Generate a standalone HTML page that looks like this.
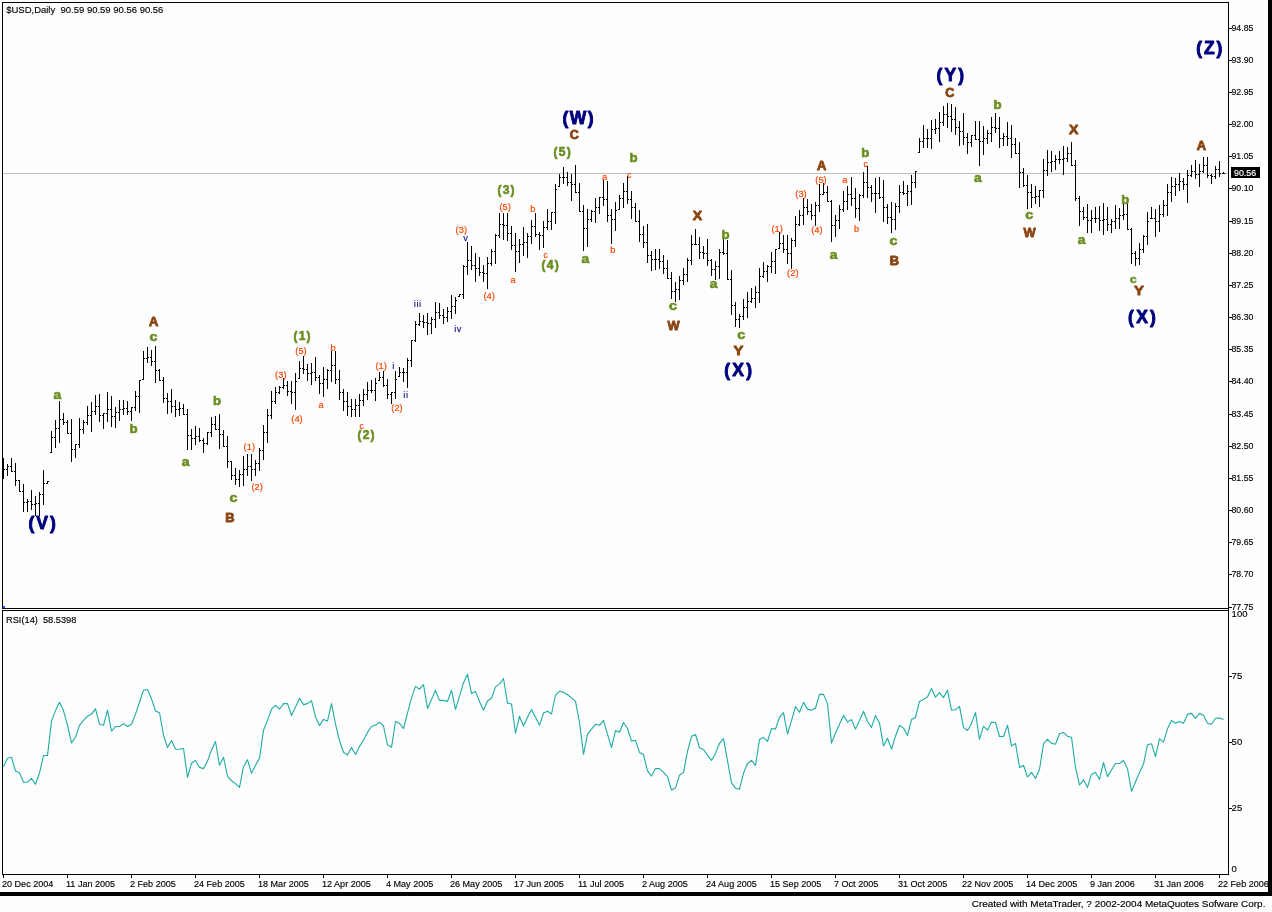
<!DOCTYPE html>
<html lang="en"><head><meta charset="utf-8"><title>$USD Daily</title>
<style>
html,body{margin:0;padding:0;background:#fdfefd;}
body{width:1272px;height:912px;overflow:hidden;font-family:"Liberation Sans",sans-serif;}
svg{display:block;position:absolute;left:0;top:0}
.ax{font-family:"Liberation Sans",sans-serif;font-size:9.5px;fill:#000;stroke:#000;stroke-width:.15px}
.N{font-family:"Liberation Sans",sans-serif;font-weight:bold;font-size:17.5px;fill:#00007f;stroke:#00007f;stroke-width:.9px;stroke-linejoin:round}
.B{font-family:"Liberation Sans",sans-serif;font-weight:bold;font-size:11.9px;fill:#8b4513;stroke:#8b4513;stroke-width:.8px;stroke-linejoin:round}
.G{font-family:"Liberation Sans",sans-serif;font-weight:bold;font-size:12px;fill:#6b8e23;stroke:#6b8e23;stroke-width:.6px;stroke-linejoin:round}
.Gs{font-family:"Liberation Sans",sans-serif;font-weight:bold;font-size:10.5px;fill:#6b8e23;stroke:#6b8e23;stroke-width:.4px}
.O{font-family:"Liberation Sans",sans-serif;font-size:9.3px;fill:#ff4500;stroke:#ff4500;stroke-width:.2px}
.Os{font-family:"Liberation Sans",sans-serif;font-size:8.3px;fill:#ff4500;stroke:#ff4500;stroke-width:.2px}
.n{font-family:"Liberation Sans",sans-serif;font-size:9.3px;fill:#00007f;stroke:#00007f;stroke-width:.1px;letter-spacing:.5px}
</style></head><body>
<svg width="1272" height="912" viewBox="0 0 1272 912">
<rect x="0" y="0" width="1272" height="912" fill="#fdfefd"/>

<g shape-rendering="crispEdges" fill="#000">
<rect x="2" y="2" width="1227" height="1"/>
<rect x="2" y="2" width="1" height="607"/>
<rect x="2" y="608" width="1227" height="1"/>
<rect x="1228" y="2" width="1" height="873"/>
<rect x="2" y="610" width="1227" height="1"/>
<rect x="2" y="610" width="1" height="265"/>
<rect x="2" y="874" width="1227" height="1"/>
<rect x="0" y="892" width="1272" height="4"/>
<rect x="1268" y="0" width="4" height="896"/>
</g>
<rect x="3" y="173" width="1225" height="1" fill="#c0c0c0" shape-rendering="crispEdges"/>
<rect x="3" y="606" width="2" height="2" fill="#3a5bff" shape-rendering="crispEdges"/>
<g shape-rendering="crispEdges" fill="#000">
<rect x="1229" y="28" width="3" height="1"/>
<rect x="1229" y="60" width="3" height="1"/>
<rect x="1229" y="92" width="3" height="1"/>
<rect x="1229" y="124" width="3" height="1"/>
<rect x="1229" y="156" width="3" height="1"/>
<rect x="1229" y="188" width="3" height="1"/>
<rect x="1229" y="221" width="3" height="1"/>
<rect x="1229" y="253" width="3" height="1"/>
<rect x="1229" y="285" width="3" height="1"/>
<rect x="1229" y="317" width="3" height="1"/>
<rect x="1229" y="349" width="3" height="1"/>
<rect x="1229" y="381" width="3" height="1"/>
<rect x="1229" y="414" width="3" height="1"/>
<rect x="1229" y="446" width="3" height="1"/>
<rect x="1229" y="478" width="3" height="1"/>
<rect x="1229" y="510" width="3" height="1"/>
<rect x="1229" y="542" width="3" height="1"/>
<rect x="1229" y="574" width="3" height="1"/>
<rect x="1229" y="607" width="3" height="1"/>
<rect x="1229" y="676" width="3" height="1"/>
<rect x="1229" y="742" width="3" height="1"/>
<rect x="1229" y="808" width="3" height="1"/>
<rect x="3" y="875" width="1" height="3"/>
<rect x="67" y="875" width="1" height="3"/>
<rect x="131" y="875" width="1" height="3"/>
<rect x="195" y="875" width="1" height="3"/>
<rect x="259" y="875" width="1" height="3"/>
<rect x="323" y="875" width="1" height="3"/>
<rect x="387" y="875" width="1" height="3"/>
<rect x="451" y="875" width="1" height="3"/>
<rect x="515" y="875" width="1" height="3"/>
<rect x="579" y="875" width="1" height="3"/>
<rect x="643" y="875" width="1" height="3"/>
<rect x="707" y="875" width="1" height="3"/>
<rect x="771" y="875" width="1" height="3"/>
<rect x="835" y="875" width="1" height="3"/>
<rect x="899" y="875" width="1" height="3"/>
<rect x="963" y="875" width="1" height="3"/>
<rect x="1027" y="875" width="1" height="3"/>
<rect x="1091" y="875" width="1" height="3"/>
<rect x="1155" y="875" width="1" height="3"/>
<rect x="1219" y="875" width="1" height="3"/>
</g>
<g class="ax">
<text x="1231.5" y="31.2" textLength="21.9" lengthAdjust="spacingAndGlyphs">94.85</text>
<text x="1231.5" y="63.2" textLength="21.9" lengthAdjust="spacingAndGlyphs">93.90</text>
<text x="1231.5" y="95.2" textLength="21.9" lengthAdjust="spacingAndGlyphs">92.95</text>
<text x="1231.5" y="127.2" textLength="21.9" lengthAdjust="spacingAndGlyphs">92.00</text>
<text x="1231.5" y="159.2" textLength="21.9" lengthAdjust="spacingAndGlyphs">91.05</text>
<text x="1231.5" y="191.2" textLength="21.9" lengthAdjust="spacingAndGlyphs">90.10</text>
<text x="1231.5" y="224.2" textLength="21.9" lengthAdjust="spacingAndGlyphs">89.15</text>
<text x="1231.5" y="256.2" textLength="21.9" lengthAdjust="spacingAndGlyphs">88.20</text>
<text x="1231.5" y="288.2" textLength="21.9" lengthAdjust="spacingAndGlyphs">87.25</text>
<text x="1231.5" y="320.2" textLength="21.9" lengthAdjust="spacingAndGlyphs">86.30</text>
<text x="1231.5" y="352.2" textLength="21.9" lengthAdjust="spacingAndGlyphs">85.35</text>
<text x="1231.5" y="384.2" textLength="21.9" lengthAdjust="spacingAndGlyphs">84.40</text>
<text x="1231.5" y="417.2" textLength="21.9" lengthAdjust="spacingAndGlyphs">83.45</text>
<text x="1231.5" y="449.2" textLength="21.9" lengthAdjust="spacingAndGlyphs">82.50</text>
<text x="1231.5" y="481.2" textLength="21.9" lengthAdjust="spacingAndGlyphs">81.55</text>
<text x="1231.5" y="513.2" textLength="21.9" lengthAdjust="spacingAndGlyphs">80.60</text>
<text x="1231.5" y="545.2" textLength="21.9" lengthAdjust="spacingAndGlyphs">79.65</text>
<text x="1231.5" y="577.2" textLength="21.9" lengthAdjust="spacingAndGlyphs">78.70</text>
<text x="1231.5" y="610.2" textLength="21.9" lengthAdjust="spacingAndGlyphs">77.75</text>
<text x="1231.6" y="617.2">100</text>
<text x="1231.6" y="678.5">75</text>
<text x="1231.6" y="744.9">50</text>
<text x="1231.6" y="811.2">25</text>
<text x="1231.6" y="871.6">0</text>
<text transform="translate(2,886.8) scale(.955,1)">20 Dec 2004</text>
<text transform="translate(66,886.8) scale(.955,1)">11 Jan 2005</text>
<text transform="translate(130,886.8) scale(.955,1)">2 Feb 2005</text>
<text transform="translate(194,886.8) scale(.955,1)">24 Feb 2005</text>
<text transform="translate(258,886.8) scale(.955,1)">18 Mar 2005</text>
<text transform="translate(322,886.8) scale(.955,1)">12 Apr 2005</text>
<text transform="translate(386,886.8) scale(.955,1)">4 May 2005</text>
<text transform="translate(450,886.8) scale(.955,1)">26 May 2005</text>
<text transform="translate(514,886.8) scale(.955,1)">17 Jun 2005</text>
<text transform="translate(578,886.8) scale(.955,1)">11 Jul 2005</text>
<text transform="translate(642,886.8) scale(.955,1)">2 Aug 2005</text>
<text transform="translate(706,886.8) scale(.955,1)">24 Aug 2005</text>
<text transform="translate(770,886.8) scale(.955,1)">15 Sep 2005</text>
<text transform="translate(834,886.8) scale(.955,1)">7 Oct 2005</text>
<text transform="translate(898,886.8) scale(.955,1)">31 Oct 2005</text>
<text transform="translate(962,886.8) scale(.955,1)">22 Nov 2005</text>
<text transform="translate(1026,886.8) scale(.955,1)">14 Dec 2005</text>
<text transform="translate(1090,886.8) scale(.955,1)">9 Jan 2006</text>
<text transform="translate(1154,886.8) scale(.955,1)">31 Jan 2006</text>
<text transform="translate(1218,886.8) scale(.955,1)">22 Feb 2006</text>
<text x="6.2" y="13.2" textLength="157.2" lengthAdjust="spacingAndGlyphs" xml:space="preserve">$USD,Daily  90.59 90.59 90.56 90.56</text>
<text x="6" y="622.6" textLength="70.4" lengthAdjust="spacingAndGlyphs" xml:space="preserve">RSI(14)  58.5398</text>
<text x="971.8" y="907.4" textLength="293.6" lengthAdjust="spacingAndGlyphs">Created with MetaTrader, ? 2002-2004 MetaQuotes Sofware Corp.</text>
</g>
<rect x="1231" y="167" width="29" height="11" fill="#000" shape-rendering="crispEdges"/>
<text class="ax" x="1234" y="176" textLength="22.2" lengthAdjust="spacingAndGlyphs" style="fill:#fff;stroke:#fff">90.56</text>
<g shape-rendering="crispEdges" fill="#000">
<rect x="3" y="458" width="1" height="21"/>
<rect x="2" y="468" width="1" height="1"/>
<rect x="4" y="469" width="1" height="1"/>
<rect x="7" y="464" width="1" height="12"/>
<rect x="6" y="469" width="1" height="1"/>
<rect x="8" y="466" width="1" height="1"/>
<rect x="11" y="458" width="1" height="14"/>
<rect x="10" y="466" width="1" height="1"/>
<rect x="12" y="471" width="1" height="1"/>
<rect x="15" y="463" width="1" height="23"/>
<rect x="14" y="471" width="1" height="1"/>
<rect x="16" y="480" width="1" height="1"/>
<rect x="19" y="480" width="1" height="12"/>
<rect x="18" y="480" width="1" height="1"/>
<rect x="20" y="491" width="1" height="1"/>
<rect x="23" y="484" width="1" height="28"/>
<rect x="22" y="491" width="1" height="1"/>
<rect x="24" y="502" width="1" height="1"/>
<rect x="27" y="499" width="1" height="13"/>
<rect x="26" y="502" width="1" height="1"/>
<rect x="28" y="501" width="1" height="1"/>
<rect x="31" y="490" width="1" height="20"/>
<rect x="30" y="501" width="1" height="1"/>
<rect x="32" y="504" width="1" height="1"/>
<rect x="35" y="496" width="1" height="20"/>
<rect x="34" y="504" width="1" height="1"/>
<rect x="36" y="503" width="1" height="1"/>
<rect x="39" y="492" width="1" height="24"/>
<rect x="38" y="503" width="1" height="1"/>
<rect x="40" y="494" width="1" height="1"/>
<rect x="43" y="470" width="1" height="35"/>
<rect x="42" y="494" width="1" height="1"/>
<rect x="44" y="483" width="1" height="1"/>
<rect x="47" y="481" width="1" height="3"/>
<rect x="46" y="483" width="1" height="1"/>
<rect x="48" y="481" width="1" height="1"/>
<rect x="51" y="431" width="1" height="22"/>
<rect x="50" y="452" width="1" height="1"/>
<rect x="52" y="437" width="1" height="1"/>
<rect x="55" y="420" width="1" height="28"/>
<rect x="54" y="437" width="1" height="1"/>
<rect x="56" y="428" width="1" height="1"/>
<rect x="59" y="401" width="1" height="42"/>
<rect x="58" y="428" width="1" height="1"/>
<rect x="60" y="419" width="1" height="1"/>
<rect x="63" y="413" width="1" height="12"/>
<rect x="62" y="419" width="1" height="1"/>
<rect x="64" y="422" width="1" height="1"/>
<rect x="67" y="420" width="1" height="14"/>
<rect x="66" y="422" width="1" height="1"/>
<rect x="68" y="433" width="1" height="1"/>
<rect x="71" y="419" width="1" height="43"/>
<rect x="70" y="433" width="1" height="1"/>
<rect x="72" y="449" width="1" height="1"/>
<rect x="75" y="444" width="1" height="14"/>
<rect x="74" y="449" width="1" height="1"/>
<rect x="76" y="444" width="1" height="1"/>
<rect x="79" y="418" width="1" height="30"/>
<rect x="78" y="444" width="1" height="1"/>
<rect x="80" y="429" width="1" height="1"/>
<rect x="83" y="420" width="1" height="14"/>
<rect x="82" y="429" width="1" height="1"/>
<rect x="84" y="422" width="1" height="1"/>
<rect x="87" y="406" width="1" height="19"/>
<rect x="86" y="422" width="1" height="1"/>
<rect x="88" y="415" width="1" height="1"/>
<rect x="91" y="402" width="1" height="30"/>
<rect x="90" y="415" width="1" height="1"/>
<rect x="92" y="411" width="1" height="1"/>
<rect x="95" y="395" width="1" height="20"/>
<rect x="94" y="411" width="1" height="1"/>
<rect x="96" y="406" width="1" height="1"/>
<rect x="99" y="394" width="1" height="28"/>
<rect x="98" y="406" width="1" height="1"/>
<rect x="100" y="415" width="1" height="1"/>
<rect x="103" y="413" width="1" height="16"/>
<rect x="102" y="415" width="1" height="1"/>
<rect x="104" y="413" width="1" height="1"/>
<rect x="107" y="392" width="1" height="30"/>
<rect x="106" y="413" width="1" height="1"/>
<rect x="108" y="409" width="1" height="1"/>
<rect x="111" y="396" width="1" height="31"/>
<rect x="110" y="409" width="1" height="1"/>
<rect x="112" y="416" width="1" height="1"/>
<rect x="115" y="407" width="1" height="21"/>
<rect x="114" y="416" width="1" height="1"/>
<rect x="116" y="412" width="1" height="1"/>
<rect x="119" y="400" width="1" height="21"/>
<rect x="118" y="412" width="1" height="1"/>
<rect x="120" y="409" width="1" height="1"/>
<rect x="123" y="400" width="1" height="15"/>
<rect x="122" y="409" width="1" height="1"/>
<rect x="124" y="408" width="1" height="1"/>
<rect x="127" y="401" width="1" height="14"/>
<rect x="126" y="408" width="1" height="1"/>
<rect x="128" y="411" width="1" height="1"/>
<rect x="131" y="407" width="1" height="14"/>
<rect x="130" y="411" width="1" height="1"/>
<rect x="132" y="407" width="1" height="1"/>
<rect x="135" y="391" width="1" height="20"/>
<rect x="134" y="407" width="1" height="1"/>
<rect x="136" y="396" width="1" height="1"/>
<rect x="139" y="380" width="1" height="33"/>
<rect x="138" y="396" width="1" height="1"/>
<rect x="140" y="380" width="1" height="1"/>
<rect x="143" y="351" width="1" height="29"/>
<rect x="142" y="379" width="1" height="1"/>
<rect x="144" y="358" width="1" height="1"/>
<rect x="147" y="347" width="1" height="16"/>
<rect x="146" y="358" width="1" height="1"/>
<rect x="148" y="357" width="1" height="1"/>
<rect x="151" y="350" width="1" height="16"/>
<rect x="150" y="357" width="1" height="1"/>
<rect x="152" y="361" width="1" height="1"/>
<rect x="155" y="346" width="1" height="37"/>
<rect x="154" y="361" width="1" height="1"/>
<rect x="156" y="370" width="1" height="1"/>
<rect x="159" y="369" width="1" height="12"/>
<rect x="158" y="370" width="1" height="1"/>
<rect x="160" y="380" width="1" height="1"/>
<rect x="163" y="377" width="1" height="26"/>
<rect x="162" y="380" width="1" height="1"/>
<rect x="164" y="398" width="1" height="1"/>
<rect x="167" y="393" width="1" height="21"/>
<rect x="166" y="398" width="1" height="1"/>
<rect x="168" y="401" width="1" height="1"/>
<rect x="171" y="389" width="1" height="24"/>
<rect x="170" y="401" width="1" height="1"/>
<rect x="172" y="406" width="1" height="1"/>
<rect x="175" y="400" width="1" height="17"/>
<rect x="174" y="406" width="1" height="1"/>
<rect x="176" y="409" width="1" height="1"/>
<rect x="179" y="402" width="1" height="14"/>
<rect x="178" y="409" width="1" height="1"/>
<rect x="180" y="408" width="1" height="1"/>
<rect x="183" y="404" width="1" height="11"/>
<rect x="182" y="408" width="1" height="1"/>
<rect x="184" y="414" width="1" height="1"/>
<rect x="187" y="409" width="1" height="41"/>
<rect x="186" y="414" width="1" height="1"/>
<rect x="188" y="435" width="1" height="1"/>
<rect x="191" y="429" width="1" height="21"/>
<rect x="190" y="435" width="1" height="1"/>
<rect x="192" y="438" width="1" height="1"/>
<rect x="195" y="426" width="1" height="19"/>
<rect x="194" y="438" width="1" height="1"/>
<rect x="196" y="436" width="1" height="1"/>
<rect x="199" y="428" width="1" height="14"/>
<rect x="198" y="436" width="1" height="1"/>
<rect x="200" y="440" width="1" height="1"/>
<rect x="203" y="438" width="1" height="15"/>
<rect x="202" y="440" width="1" height="1"/>
<rect x="204" y="443" width="1" height="1"/>
<rect x="207" y="432" width="1" height="13"/>
<rect x="206" y="443" width="1" height="1"/>
<rect x="208" y="432" width="1" height="1"/>
<rect x="211" y="417" width="1" height="20"/>
<rect x="210" y="432" width="1" height="1"/>
<rect x="212" y="424" width="1" height="1"/>
<rect x="215" y="416" width="1" height="14"/>
<rect x="214" y="424" width="1" height="1"/>
<rect x="216" y="429" width="1" height="1"/>
<rect x="219" y="414" width="1" height="35"/>
<rect x="218" y="429" width="1" height="1"/>
<rect x="220" y="434" width="1" height="1"/>
<rect x="223" y="430" width="1" height="17"/>
<rect x="222" y="434" width="1" height="1"/>
<rect x="224" y="446" width="1" height="1"/>
<rect x="227" y="436" width="1" height="32"/>
<rect x="226" y="446" width="1" height="1"/>
<rect x="228" y="461" width="1" height="1"/>
<rect x="231" y="461" width="1" height="19"/>
<rect x="230" y="461" width="1" height="1"/>
<rect x="232" y="475" width="1" height="1"/>
<rect x="235" y="468" width="1" height="17"/>
<rect x="234" y="475" width="1" height="1"/>
<rect x="236" y="479" width="1" height="1"/>
<rect x="239" y="470" width="1" height="17"/>
<rect x="238" y="479" width="1" height="1"/>
<rect x="240" y="474" width="1" height="1"/>
<rect x="243" y="456" width="1" height="30"/>
<rect x="242" y="474" width="1" height="1"/>
<rect x="244" y="469" width="1" height="1"/>
<rect x="247" y="454" width="1" height="22"/>
<rect x="246" y="469" width="1" height="1"/>
<rect x="248" y="466" width="1" height="1"/>
<rect x="251" y="454" width="1" height="27"/>
<rect x="250" y="466" width="1" height="1"/>
<rect x="252" y="469" width="1" height="1"/>
<rect x="255" y="460" width="1" height="16"/>
<rect x="254" y="469" width="1" height="1"/>
<rect x="256" y="463" width="1" height="1"/>
<rect x="259" y="448" width="1" height="23"/>
<rect x="258" y="463" width="1" height="1"/>
<rect x="260" y="450" width="1" height="1"/>
<rect x="263" y="425" width="1" height="35"/>
<rect x="262" y="450" width="1" height="1"/>
<rect x="264" y="432" width="1" height="1"/>
<rect x="267" y="409" width="1" height="34"/>
<rect x="266" y="432" width="1" height="1"/>
<rect x="268" y="415" width="1" height="1"/>
<rect x="271" y="391" width="1" height="28"/>
<rect x="270" y="415" width="1" height="1"/>
<rect x="272" y="401" width="1" height="1"/>
<rect x="275" y="387" width="1" height="17"/>
<rect x="274" y="401" width="1" height="1"/>
<rect x="276" y="392" width="1" height="1"/>
<rect x="279" y="386" width="1" height="8"/>
<rect x="278" y="392" width="1" height="1"/>
<rect x="280" y="387" width="1" height="1"/>
<rect x="283" y="378" width="1" height="11"/>
<rect x="282" y="387" width="1" height="1"/>
<rect x="284" y="385" width="1" height="1"/>
<rect x="287" y="381" width="1" height="15"/>
<rect x="286" y="385" width="1" height="1"/>
<rect x="288" y="391" width="1" height="1"/>
<rect x="291" y="381" width="1" height="23"/>
<rect x="290" y="391" width="1" height="1"/>
<rect x="292" y="392" width="1" height="1"/>
<rect x="295" y="373" width="1" height="37"/>
<rect x="294" y="392" width="1" height="1"/>
<rect x="296" y="381" width="1" height="1"/>
<rect x="299" y="361" width="1" height="18"/>
<rect x="298" y="378" width="1" height="1"/>
<rect x="300" y="368" width="1" height="1"/>
<rect x="303" y="356" width="1" height="18"/>
<rect x="302" y="368" width="1" height="1"/>
<rect x="304" y="369" width="1" height="1"/>
<rect x="307" y="364" width="1" height="17"/>
<rect x="306" y="369" width="1" height="1"/>
<rect x="308" y="373" width="1" height="1"/>
<rect x="311" y="363" width="1" height="22"/>
<rect x="310" y="373" width="1" height="1"/>
<rect x="312" y="372" width="1" height="1"/>
<rect x="315" y="357" width="1" height="24"/>
<rect x="314" y="372" width="1" height="1"/>
<rect x="316" y="377" width="1" height="1"/>
<rect x="319" y="375" width="1" height="19"/>
<rect x="318" y="377" width="1" height="1"/>
<rect x="320" y="383" width="1" height="1"/>
<rect x="323" y="367" width="1" height="30"/>
<rect x="322" y="383" width="1" height="1"/>
<rect x="324" y="379" width="1" height="1"/>
<rect x="327" y="369" width="1" height="20"/>
<rect x="326" y="379" width="1" height="1"/>
<rect x="328" y="370" width="1" height="1"/>
<rect x="331" y="351" width="1" height="31"/>
<rect x="330" y="370" width="1" height="1"/>
<rect x="332" y="365" width="1" height="1"/>
<rect x="335" y="351" width="1" height="33"/>
<rect x="334" y="365" width="1" height="1"/>
<rect x="336" y="379" width="1" height="1"/>
<rect x="339" y="370" width="1" height="30"/>
<rect x="338" y="379" width="1" height="1"/>
<rect x="340" y="392" width="1" height="1"/>
<rect x="343" y="389" width="1" height="22"/>
<rect x="342" y="392" width="1" height="1"/>
<rect x="344" y="401" width="1" height="1"/>
<rect x="347" y="392" width="1" height="24"/>
<rect x="346" y="401" width="1" height="1"/>
<rect x="348" y="406" width="1" height="1"/>
<rect x="351" y="399" width="1" height="18"/>
<rect x="350" y="406" width="1" height="1"/>
<rect x="352" y="409" width="1" height="1"/>
<rect x="355" y="399" width="1" height="18"/>
<rect x="354" y="409" width="1" height="1"/>
<rect x="356" y="405" width="1" height="1"/>
<rect x="359" y="394" width="1" height="23"/>
<rect x="358" y="405" width="1" height="1"/>
<rect x="360" y="400" width="1" height="1"/>
<rect x="363" y="389" width="1" height="17"/>
<rect x="362" y="400" width="1" height="1"/>
<rect x="364" y="394" width="1" height="1"/>
<rect x="367" y="382" width="1" height="18"/>
<rect x="366" y="394" width="1" height="1"/>
<rect x="368" y="390" width="1" height="1"/>
<rect x="371" y="380" width="1" height="13"/>
<rect x="370" y="390" width="1" height="1"/>
<rect x="372" y="390" width="1" height="1"/>
<rect x="375" y="378" width="1" height="23"/>
<rect x="374" y="390" width="1" height="1"/>
<rect x="376" y="383" width="1" height="1"/>
<rect x="379" y="372" width="1" height="9"/>
<rect x="378" y="380" width="1" height="1"/>
<rect x="380" y="377" width="1" height="1"/>
<rect x="383" y="371" width="1" height="16"/>
<rect x="382" y="377" width="1" height="1"/>
<rect x="384" y="385" width="1" height="1"/>
<rect x="387" y="379" width="1" height="20"/>
<rect x="386" y="385" width="1" height="1"/>
<rect x="388" y="394" width="1" height="1"/>
<rect x="391" y="392" width="1" height="12"/>
<rect x="390" y="394" width="1" height="1"/>
<rect x="392" y="392" width="1" height="1"/>
<rect x="395" y="371" width="1" height="28"/>
<rect x="394" y="392" width="1" height="1"/>
<rect x="396" y="379" width="1" height="1"/>
<rect x="399" y="367" width="1" height="10"/>
<rect x="398" y="376" width="1" height="1"/>
<rect x="400" y="372" width="1" height="1"/>
<rect x="403" y="368" width="1" height="14"/>
<rect x="402" y="372" width="1" height="1"/>
<rect x="404" y="372" width="1" height="1"/>
<rect x="407" y="358" width="1" height="30"/>
<rect x="406" y="372" width="1" height="1"/>
<rect x="408" y="360" width="1" height="1"/>
<rect x="411" y="340" width="1" height="27"/>
<rect x="410" y="360" width="1" height="1"/>
<rect x="412" y="340" width="1" height="1"/>
<rect x="415" y="321" width="1" height="21"/>
<rect x="414" y="340" width="1" height="1"/>
<rect x="416" y="324" width="1" height="1"/>
<rect x="419" y="313" width="1" height="13"/>
<rect x="418" y="324" width="1" height="1"/>
<rect x="420" y="321" width="1" height="1"/>
<rect x="423" y="315" width="1" height="13"/>
<rect x="422" y="321" width="1" height="1"/>
<rect x="424" y="322" width="1" height="1"/>
<rect x="427" y="313" width="1" height="22"/>
<rect x="426" y="322" width="1" height="1"/>
<rect x="428" y="323" width="1" height="1"/>
<rect x="431" y="317" width="1" height="17"/>
<rect x="430" y="323" width="1" height="1"/>
<rect x="432" y="319" width="1" height="1"/>
<rect x="435" y="302" width="1" height="26"/>
<rect x="434" y="319" width="1" height="1"/>
<rect x="436" y="312" width="1" height="1"/>
<rect x="439" y="303" width="1" height="16"/>
<rect x="438" y="312" width="1" height="1"/>
<rect x="440" y="315" width="1" height="1"/>
<rect x="443" y="309" width="1" height="15"/>
<rect x="442" y="315" width="1" height="1"/>
<rect x="444" y="317" width="1" height="1"/>
<rect x="447" y="307" width="1" height="15"/>
<rect x="446" y="317" width="1" height="1"/>
<rect x="448" y="311" width="1" height="1"/>
<rect x="451" y="295" width="1" height="24"/>
<rect x="450" y="311" width="1" height="1"/>
<rect x="452" y="306" width="1" height="1"/>
<rect x="455" y="297" width="1" height="17"/>
<rect x="454" y="306" width="1" height="1"/>
<rect x="456" y="300" width="1" height="1"/>
<rect x="459" y="294" width="1" height="3"/>
<rect x="458" y="296" width="1" height="1"/>
<rect x="460" y="294" width="1" height="1"/>
<rect x="463" y="265" width="1" height="34"/>
<rect x="462" y="294" width="1" height="1"/>
<rect x="464" y="266" width="1" height="1"/>
<rect x="467" y="242" width="1" height="33"/>
<rect x="466" y="266" width="1" height="1"/>
<rect x="468" y="260" width="1" height="1"/>
<rect x="471" y="246" width="1" height="24"/>
<rect x="470" y="260" width="1" height="1"/>
<rect x="472" y="265" width="1" height="1"/>
<rect x="475" y="253" width="1" height="29"/>
<rect x="474" y="265" width="1" height="1"/>
<rect x="476" y="268" width="1" height="1"/>
<rect x="479" y="257" width="1" height="19"/>
<rect x="478" y="268" width="1" height="1"/>
<rect x="480" y="272" width="1" height="1"/>
<rect x="483" y="265" width="1" height="17"/>
<rect x="482" y="272" width="1" height="1"/>
<rect x="484" y="273" width="1" height="1"/>
<rect x="487" y="257" width="1" height="32"/>
<rect x="486" y="273" width="1" height="1"/>
<rect x="488" y="263" width="1" height="1"/>
<rect x="491" y="249" width="1" height="17"/>
<rect x="490" y="263" width="1" height="1"/>
<rect x="492" y="251" width="1" height="1"/>
<rect x="495" y="234" width="1" height="30"/>
<rect x="494" y="251" width="1" height="1"/>
<rect x="496" y="235" width="1" height="1"/>
<rect x="499" y="213" width="1" height="25"/>
<rect x="498" y="235" width="1" height="1"/>
<rect x="500" y="224" width="1" height="1"/>
<rect x="503" y="213" width="1" height="27"/>
<rect x="502" y="224" width="1" height="1"/>
<rect x="504" y="225" width="1" height="1"/>
<rect x="507" y="213" width="1" height="28"/>
<rect x="506" y="225" width="1" height="1"/>
<rect x="508" y="233" width="1" height="1"/>
<rect x="511" y="226" width="1" height="24"/>
<rect x="510" y="233" width="1" height="1"/>
<rect x="512" y="245" width="1" height="1"/>
<rect x="515" y="233" width="1" height="39"/>
<rect x="514" y="245" width="1" height="1"/>
<rect x="516" y="251" width="1" height="1"/>
<rect x="519" y="239" width="1" height="24"/>
<rect x="518" y="251" width="1" height="1"/>
<rect x="520" y="244" width="1" height="1"/>
<rect x="523" y="227" width="1" height="29"/>
<rect x="522" y="244" width="1" height="1"/>
<rect x="524" y="242" width="1" height="1"/>
<rect x="527" y="233" width="1" height="25"/>
<rect x="526" y="242" width="1" height="1"/>
<rect x="528" y="236" width="1" height="1"/>
<rect x="531" y="220" width="1" height="24"/>
<rect x="530" y="236" width="1" height="1"/>
<rect x="532" y="226" width="1" height="1"/>
<rect x="535" y="213" width="1" height="24"/>
<rect x="534" y="226" width="1" height="1"/>
<rect x="536" y="234" width="1" height="1"/>
<rect x="539" y="232" width="1" height="18"/>
<rect x="538" y="234" width="1" height="1"/>
<rect x="540" y="235" width="1" height="1"/>
<rect x="543" y="221" width="1" height="27"/>
<rect x="542" y="235" width="1" height="1"/>
<rect x="544" y="227" width="1" height="1"/>
<rect x="547" y="209" width="1" height="21"/>
<rect x="546" y="227" width="1" height="1"/>
<rect x="548" y="221" width="1" height="1"/>
<rect x="551" y="212" width="1" height="18"/>
<rect x="550" y="221" width="1" height="1"/>
<rect x="552" y="212" width="1" height="1"/>
<rect x="555" y="184" width="1" height="40"/>
<rect x="554" y="212" width="1" height="1"/>
<rect x="556" y="189" width="1" height="1"/>
<rect x="559" y="174" width="1" height="13"/>
<rect x="558" y="186" width="1" height="1"/>
<rect x="560" y="177" width="1" height="1"/>
<rect x="563" y="167" width="1" height="17"/>
<rect x="562" y="177" width="1" height="1"/>
<rect x="564" y="177" width="1" height="1"/>
<rect x="567" y="172" width="1" height="14"/>
<rect x="566" y="177" width="1" height="1"/>
<rect x="568" y="182" width="1" height="1"/>
<rect x="571" y="174" width="1" height="27"/>
<rect x="570" y="182" width="1" height="1"/>
<rect x="572" y="184" width="1" height="1"/>
<rect x="575" y="165" width="1" height="28"/>
<rect x="574" y="184" width="1" height="1"/>
<rect x="576" y="192" width="1" height="1"/>
<rect x="579" y="183" width="1" height="29"/>
<rect x="578" y="192" width="1" height="1"/>
<rect x="580" y="211" width="1" height="1"/>
<rect x="583" y="205" width="1" height="46"/>
<rect x="582" y="211" width="1" height="1"/>
<rect x="584" y="228" width="1" height="1"/>
<rect x="587" y="209" width="1" height="38"/>
<rect x="586" y="228" width="1" height="1"/>
<rect x="588" y="219" width="1" height="1"/>
<rect x="591" y="210" width="1" height="12"/>
<rect x="590" y="219" width="1" height="1"/>
<rect x="592" y="211" width="1" height="1"/>
<rect x="595" y="198" width="1" height="25"/>
<rect x="594" y="211" width="1" height="1"/>
<rect x="596" y="207" width="1" height="1"/>
<rect x="599" y="197" width="1" height="17"/>
<rect x="598" y="207" width="1" height="1"/>
<rect x="600" y="197" width="1" height="1"/>
<rect x="603" y="180" width="1" height="26"/>
<rect x="602" y="197" width="1" height="1"/>
<rect x="604" y="199" width="1" height="1"/>
<rect x="607" y="181" width="1" height="41"/>
<rect x="606" y="199" width="1" height="1"/>
<rect x="608" y="215" width="1" height="1"/>
<rect x="611" y="209" width="1" height="35"/>
<rect x="610" y="215" width="1" height="1"/>
<rect x="612" y="219" width="1" height="1"/>
<rect x="615" y="202" width="1" height="29"/>
<rect x="614" y="219" width="1" height="1"/>
<rect x="616" y="210" width="1" height="1"/>
<rect x="619" y="195" width="1" height="15"/>
<rect x="618" y="209" width="1" height="1"/>
<rect x="620" y="198" width="1" height="1"/>
<rect x="623" y="183" width="1" height="25"/>
<rect x="622" y="198" width="1" height="1"/>
<rect x="624" y="191" width="1" height="1"/>
<rect x="627" y="176" width="1" height="28"/>
<rect x="626" y="191" width="1" height="1"/>
<rect x="628" y="199" width="1" height="1"/>
<rect x="631" y="191" width="1" height="28"/>
<rect x="630" y="199" width="1" height="1"/>
<rect x="632" y="207" width="1" height="1"/>
<rect x="635" y="203" width="1" height="19"/>
<rect x="634" y="207" width="1" height="1"/>
<rect x="636" y="221" width="1" height="1"/>
<rect x="639" y="210" width="1" height="32"/>
<rect x="638" y="221" width="1" height="1"/>
<rect x="640" y="234" width="1" height="1"/>
<rect x="643" y="226" width="1" height="22"/>
<rect x="642" y="234" width="1" height="1"/>
<rect x="644" y="242" width="1" height="1"/>
<rect x="647" y="224" width="1" height="39"/>
<rect x="646" y="242" width="1" height="1"/>
<rect x="648" y="255" width="1" height="1"/>
<rect x="651" y="251" width="1" height="20"/>
<rect x="650" y="255" width="1" height="1"/>
<rect x="652" y="259" width="1" height="1"/>
<rect x="655" y="249" width="1" height="21"/>
<rect x="654" y="259" width="1" height="1"/>
<rect x="656" y="259" width="1" height="1"/>
<rect x="659" y="249" width="1" height="20"/>
<rect x="658" y="259" width="1" height="1"/>
<rect x="660" y="261" width="1" height="1"/>
<rect x="663" y="255" width="1" height="19"/>
<rect x="662" y="261" width="1" height="1"/>
<rect x="664" y="268" width="1" height="1"/>
<rect x="667" y="260" width="1" height="19"/>
<rect x="666" y="268" width="1" height="1"/>
<rect x="668" y="278" width="1" height="1"/>
<rect x="671" y="272" width="1" height="27"/>
<rect x="670" y="278" width="1" height="1"/>
<rect x="672" y="291" width="1" height="1"/>
<rect x="675" y="282" width="1" height="20"/>
<rect x="674" y="291" width="1" height="1"/>
<rect x="676" y="289" width="1" height="1"/>
<rect x="679" y="276" width="1" height="24"/>
<rect x="678" y="289" width="1" height="1"/>
<rect x="680" y="280" width="1" height="1"/>
<rect x="683" y="268" width="1" height="17"/>
<rect x="682" y="280" width="1" height="1"/>
<rect x="684" y="274" width="1" height="1"/>
<rect x="687" y="258" width="1" height="24"/>
<rect x="686" y="274" width="1" height="1"/>
<rect x="688" y="260" width="1" height="1"/>
<rect x="691" y="235" width="1" height="30"/>
<rect x="690" y="260" width="1" height="1"/>
<rect x="692" y="244" width="1" height="1"/>
<rect x="695" y="229" width="1" height="16"/>
<rect x="694" y="244" width="1" height="1"/>
<rect x="696" y="244" width="1" height="1"/>
<rect x="699" y="237" width="1" height="22"/>
<rect x="698" y="244" width="1" height="1"/>
<rect x="700" y="252" width="1" height="1"/>
<rect x="703" y="246" width="1" height="13"/>
<rect x="702" y="252" width="1" height="1"/>
<rect x="704" y="253" width="1" height="1"/>
<rect x="707" y="239" width="1" height="27"/>
<rect x="706" y="253" width="1" height="1"/>
<rect x="708" y="260" width="1" height="1"/>
<rect x="711" y="259" width="1" height="17"/>
<rect x="710" y="260" width="1" height="1"/>
<rect x="712" y="269" width="1" height="1"/>
<rect x="715" y="261" width="1" height="19"/>
<rect x="714" y="269" width="1" height="1"/>
<rect x="716" y="266" width="1" height="1"/>
<rect x="719" y="249" width="1" height="30"/>
<rect x="718" y="266" width="1" height="1"/>
<rect x="720" y="252" width="1" height="1"/>
<rect x="723" y="239" width="1" height="16"/>
<rect x="722" y="252" width="1" height="1"/>
<rect x="724" y="253" width="1" height="1"/>
<rect x="727" y="240" width="1" height="40"/>
<rect x="726" y="253" width="1" height="1"/>
<rect x="728" y="279" width="1" height="1"/>
<rect x="731" y="270" width="1" height="45"/>
<rect x="730" y="279" width="1" height="1"/>
<rect x="732" y="305" width="1" height="1"/>
<rect x="735" y="302" width="1" height="25"/>
<rect x="734" y="305" width="1" height="1"/>
<rect x="736" y="319" width="1" height="1"/>
<rect x="739" y="314" width="1" height="14"/>
<rect x="738" y="319" width="1" height="1"/>
<rect x="740" y="316" width="1" height="1"/>
<rect x="743" y="299" width="1" height="21"/>
<rect x="742" y="316" width="1" height="1"/>
<rect x="744" y="307" width="1" height="1"/>
<rect x="747" y="292" width="1" height="26"/>
<rect x="746" y="307" width="1" height="1"/>
<rect x="748" y="301" width="1" height="1"/>
<rect x="751" y="288" width="1" height="15"/>
<rect x="750" y="301" width="1" height="1"/>
<rect x="752" y="298" width="1" height="1"/>
<rect x="755" y="286" width="1" height="22"/>
<rect x="754" y="298" width="1" height="1"/>
<rect x="756" y="292" width="1" height="1"/>
<rect x="759" y="268" width="1" height="35"/>
<rect x="758" y="292" width="1" height="1"/>
<rect x="760" y="276" width="1" height="1"/>
<rect x="763" y="262" width="1" height="16"/>
<rect x="762" y="276" width="1" height="1"/>
<rect x="764" y="271" width="1" height="1"/>
<rect x="767" y="265" width="1" height="17"/>
<rect x="766" y="271" width="1" height="1"/>
<rect x="768" y="266" width="1" height="1"/>
<rect x="771" y="252" width="1" height="21"/>
<rect x="770" y="266" width="1" height="1"/>
<rect x="772" y="261" width="1" height="1"/>
<rect x="775" y="249" width="1" height="25"/>
<rect x="774" y="261" width="1" height="1"/>
<rect x="776" y="249" width="1" height="1"/>
<rect x="779" y="232" width="1" height="17"/>
<rect x="778" y="248" width="1" height="1"/>
<rect x="780" y="243" width="1" height="1"/>
<rect x="783" y="235" width="1" height="18"/>
<rect x="782" y="243" width="1" height="1"/>
<rect x="784" y="249" width="1" height="1"/>
<rect x="787" y="235" width="1" height="29"/>
<rect x="786" y="249" width="1" height="1"/>
<rect x="788" y="253" width="1" height="1"/>
<rect x="791" y="238" width="1" height="31"/>
<rect x="790" y="253" width="1" height="1"/>
<rect x="792" y="240" width="1" height="1"/>
<rect x="795" y="216" width="1" height="31"/>
<rect x="794" y="240" width="1" height="1"/>
<rect x="796" y="224" width="1" height="1"/>
<rect x="799" y="210" width="1" height="16"/>
<rect x="798" y="224" width="1" height="1"/>
<rect x="800" y="215" width="1" height="1"/>
<rect x="803" y="198" width="1" height="27"/>
<rect x="802" y="215" width="1" height="1"/>
<rect x="804" y="207" width="1" height="1"/>
<rect x="807" y="199" width="1" height="16"/>
<rect x="806" y="207" width="1" height="1"/>
<rect x="808" y="211" width="1" height="1"/>
<rect x="811" y="204" width="1" height="16"/>
<rect x="810" y="211" width="1" height="1"/>
<rect x="812" y="215" width="1" height="1"/>
<rect x="815" y="202" width="1" height="24"/>
<rect x="814" y="215" width="1" height="1"/>
<rect x="816" y="205" width="1" height="1"/>
<rect x="819" y="184" width="1" height="28"/>
<rect x="818" y="205" width="1" height="1"/>
<rect x="820" y="194" width="1" height="1"/>
<rect x="823" y="183" width="1" height="12"/>
<rect x="822" y="194" width="1" height="1"/>
<rect x="824" y="192" width="1" height="1"/>
<rect x="827" y="186" width="1" height="16"/>
<rect x="826" y="192" width="1" height="1"/>
<rect x="828" y="201" width="1" height="1"/>
<rect x="831" y="200" width="1" height="42"/>
<rect x="830" y="201" width="1" height="1"/>
<rect x="832" y="225" width="1" height="1"/>
<rect x="835" y="215" width="1" height="22"/>
<rect x="834" y="225" width="1" height="1"/>
<rect x="836" y="220" width="1" height="1"/>
<rect x="839" y="205" width="1" height="24"/>
<rect x="838" y="220" width="1" height="1"/>
<rect x="840" y="209" width="1" height="1"/>
<rect x="843" y="191" width="1" height="21"/>
<rect x="842" y="209" width="1" height="1"/>
<rect x="844" y="201" width="1" height="1"/>
<rect x="847" y="186" width="1" height="24"/>
<rect x="846" y="201" width="1" height="1"/>
<rect x="848" y="194" width="1" height="1"/>
<rect x="851" y="177" width="1" height="29"/>
<rect x="850" y="194" width="1" height="1"/>
<rect x="852" y="198" width="1" height="1"/>
<rect x="855" y="188" width="1" height="30"/>
<rect x="854" y="198" width="1" height="1"/>
<rect x="856" y="208" width="1" height="1"/>
<rect x="859" y="194" width="1" height="27"/>
<rect x="858" y="208" width="1" height="1"/>
<rect x="860" y="195" width="1" height="1"/>
<rect x="863" y="172" width="1" height="26"/>
<rect x="862" y="195" width="1" height="1"/>
<rect x="864" y="182" width="1" height="1"/>
<rect x="867" y="166" width="1" height="32"/>
<rect x="866" y="182" width="1" height="1"/>
<rect x="868" y="187" width="1" height="1"/>
<rect x="871" y="185" width="1" height="17"/>
<rect x="870" y="187" width="1" height="1"/>
<rect x="872" y="193" width="1" height="1"/>
<rect x="875" y="178" width="1" height="35"/>
<rect x="874" y="193" width="1" height="1"/>
<rect x="876" y="193" width="1" height="1"/>
<rect x="879" y="177" width="1" height="22"/>
<rect x="878" y="193" width="1" height="1"/>
<rect x="880" y="197" width="1" height="1"/>
<rect x="883" y="180" width="1" height="42"/>
<rect x="882" y="197" width="1" height="1"/>
<rect x="884" y="207" width="1" height="1"/>
<rect x="887" y="204" width="1" height="20"/>
<rect x="886" y="207" width="1" height="1"/>
<rect x="888" y="217" width="1" height="1"/>
<rect x="891" y="202" width="1" height="31"/>
<rect x="890" y="217" width="1" height="1"/>
<rect x="892" y="219" width="1" height="1"/>
<rect x="895" y="203" width="1" height="27"/>
<rect x="894" y="219" width="1" height="1"/>
<rect x="896" y="206" width="1" height="1"/>
<rect x="899" y="185" width="1" height="28"/>
<rect x="898" y="206" width="1" height="1"/>
<rect x="900" y="192" width="1" height="1"/>
<rect x="903" y="181" width="1" height="14"/>
<rect x="902" y="192" width="1" height="1"/>
<rect x="904" y="193" width="1" height="1"/>
<rect x="907" y="185" width="1" height="21"/>
<rect x="906" y="193" width="1" height="1"/>
<rect x="908" y="191" width="1" height="1"/>
<rect x="911" y="175" width="1" height="30"/>
<rect x="910" y="191" width="1" height="1"/>
<rect x="912" y="182" width="1" height="1"/>
<rect x="915" y="171" width="1" height="17"/>
<rect x="914" y="182" width="1" height="1"/>
<rect x="916" y="171" width="1" height="1"/>
<rect x="919" y="138" width="1" height="15"/>
<rect x="918" y="152" width="1" height="1"/>
<rect x="920" y="141" width="1" height="1"/>
<rect x="923" y="125" width="1" height="23"/>
<rect x="922" y="141" width="1" height="1"/>
<rect x="924" y="138" width="1" height="1"/>
<rect x="927" y="129" width="1" height="19"/>
<rect x="926" y="138" width="1" height="1"/>
<rect x="928" y="138" width="1" height="1"/>
<rect x="931" y="120" width="1" height="29"/>
<rect x="930" y="138" width="1" height="1"/>
<rect x="932" y="129" width="1" height="1"/>
<rect x="935" y="119" width="1" height="15"/>
<rect x="934" y="129" width="1" height="1"/>
<rect x="936" y="128" width="1" height="1"/>
<rect x="939" y="112" width="1" height="30"/>
<rect x="938" y="128" width="1" height="1"/>
<rect x="940" y="122" width="1" height="1"/>
<rect x="943" y="106" width="1" height="20"/>
<rect x="942" y="122" width="1" height="1"/>
<rect x="944" y="114" width="1" height="1"/>
<rect x="947" y="103" width="1" height="25"/>
<rect x="946" y="114" width="1" height="1"/>
<rect x="948" y="116" width="1" height="1"/>
<rect x="951" y="104" width="1" height="28"/>
<rect x="950" y="116" width="1" height="1"/>
<rect x="952" y="119" width="1" height="1"/>
<rect x="955" y="107" width="1" height="28"/>
<rect x="954" y="119" width="1" height="1"/>
<rect x="956" y="127" width="1" height="1"/>
<rect x="959" y="121" width="1" height="25"/>
<rect x="958" y="127" width="1" height="1"/>
<rect x="960" y="131" width="1" height="1"/>
<rect x="963" y="113" width="1" height="32"/>
<rect x="962" y="131" width="1" height="1"/>
<rect x="964" y="137" width="1" height="1"/>
<rect x="967" y="133" width="1" height="21"/>
<rect x="966" y="137" width="1" height="1"/>
<rect x="968" y="142" width="1" height="1"/>
<rect x="971" y="135" width="1" height="12"/>
<rect x="970" y="142" width="1" height="1"/>
<rect x="972" y="135" width="1" height="1"/>
<rect x="975" y="121" width="1" height="19"/>
<rect x="974" y="135" width="1" height="1"/>
<rect x="976" y="139" width="1" height="1"/>
<rect x="979" y="121" width="1" height="45"/>
<rect x="978" y="139" width="1" height="1"/>
<rect x="980" y="141" width="1" height="1"/>
<rect x="983" y="126" width="1" height="29"/>
<rect x="982" y="141" width="1" height="1"/>
<rect x="984" y="138" width="1" height="1"/>
<rect x="987" y="130" width="1" height="14"/>
<rect x="986" y="138" width="1" height="1"/>
<rect x="988" y="133" width="1" height="1"/>
<rect x="991" y="117" width="1" height="25"/>
<rect x="990" y="133" width="1" height="1"/>
<rect x="992" y="127" width="1" height="1"/>
<rect x="995" y="113" width="1" height="20"/>
<rect x="994" y="127" width="1" height="1"/>
<rect x="996" y="128" width="1" height="1"/>
<rect x="999" y="117" width="1" height="31"/>
<rect x="998" y="128" width="1" height="1"/>
<rect x="1000" y="138" width="1" height="1"/>
<rect x="1003" y="133" width="1" height="13"/>
<rect x="1002" y="138" width="1" height="1"/>
<rect x="1004" y="136" width="1" height="1"/>
<rect x="1007" y="122" width="1" height="24"/>
<rect x="1006" y="136" width="1" height="1"/>
<rect x="1008" y="138" width="1" height="1"/>
<rect x="1011" y="125" width="1" height="33"/>
<rect x="1010" y="138" width="1" height="1"/>
<rect x="1012" y="144" width="1" height="1"/>
<rect x="1015" y="138" width="1" height="16"/>
<rect x="1014" y="144" width="1" height="1"/>
<rect x="1016" y="153" width="1" height="1"/>
<rect x="1019" y="142" width="1" height="46"/>
<rect x="1018" y="153" width="1" height="1"/>
<rect x="1020" y="172" width="1" height="1"/>
<rect x="1023" y="168" width="1" height="19"/>
<rect x="1022" y="172" width="1" height="1"/>
<rect x="1024" y="185" width="1" height="1"/>
<rect x="1027" y="175" width="1" height="34"/>
<rect x="1026" y="185" width="1" height="1"/>
<rect x="1028" y="192" width="1" height="1"/>
<rect x="1031" y="184" width="1" height="24"/>
<rect x="1030" y="192" width="1" height="1"/>
<rect x="1032" y="197" width="1" height="1"/>
<rect x="1035" y="186" width="1" height="18"/>
<rect x="1034" y="197" width="1" height="1"/>
<rect x="1036" y="196" width="1" height="1"/>
<rect x="1039" y="190" width="1" height="17"/>
<rect x="1038" y="196" width="1" height="1"/>
<rect x="1040" y="190" width="1" height="1"/>
<rect x="1043" y="159" width="1" height="39"/>
<rect x="1042" y="190" width="1" height="1"/>
<rect x="1044" y="170" width="1" height="1"/>
<rect x="1047" y="150" width="1" height="26"/>
<rect x="1046" y="170" width="1" height="1"/>
<rect x="1048" y="162" width="1" height="1"/>
<rect x="1051" y="151" width="1" height="21"/>
<rect x="1050" y="162" width="1" height="1"/>
<rect x="1052" y="161" width="1" height="1"/>
<rect x="1055" y="155" width="1" height="15"/>
<rect x="1054" y="161" width="1" height="1"/>
<rect x="1056" y="159" width="1" height="1"/>
<rect x="1059" y="151" width="1" height="13"/>
<rect x="1058" y="159" width="1" height="1"/>
<rect x="1060" y="159" width="1" height="1"/>
<rect x="1063" y="146" width="1" height="29"/>
<rect x="1062" y="159" width="1" height="1"/>
<rect x="1064" y="158" width="1" height="1"/>
<rect x="1067" y="147" width="1" height="15"/>
<rect x="1066" y="158" width="1" height="1"/>
<rect x="1068" y="153" width="1" height="1"/>
<rect x="1071" y="142" width="1" height="24"/>
<rect x="1070" y="153" width="1" height="1"/>
<rect x="1072" y="165" width="1" height="1"/>
<rect x="1075" y="160" width="1" height="41"/>
<rect x="1074" y="165" width="1" height="1"/>
<rect x="1076" y="198" width="1" height="1"/>
<rect x="1079" y="196" width="1" height="30"/>
<rect x="1078" y="198" width="1" height="1"/>
<rect x="1080" y="211" width="1" height="1"/>
<rect x="1083" y="207" width="1" height="13"/>
<rect x="1082" y="211" width="1" height="1"/>
<rect x="1084" y="217" width="1" height="1"/>
<rect x="1087" y="204" width="1" height="29"/>
<rect x="1086" y="217" width="1" height="1"/>
<rect x="1088" y="220" width="1" height="1"/>
<rect x="1091" y="210" width="1" height="23"/>
<rect x="1090" y="220" width="1" height="1"/>
<rect x="1092" y="218" width="1" height="1"/>
<rect x="1095" y="207" width="1" height="16"/>
<rect x="1094" y="218" width="1" height="1"/>
<rect x="1096" y="218" width="1" height="1"/>
<rect x="1099" y="206" width="1" height="25"/>
<rect x="1098" y="218" width="1" height="1"/>
<rect x="1100" y="220" width="1" height="1"/>
<rect x="1103" y="203" width="1" height="32"/>
<rect x="1102" y="220" width="1" height="1"/>
<rect x="1104" y="219" width="1" height="1"/>
<rect x="1107" y="207" width="1" height="24"/>
<rect x="1106" y="219" width="1" height="1"/>
<rect x="1108" y="224" width="1" height="1"/>
<rect x="1111" y="219" width="1" height="14"/>
<rect x="1110" y="224" width="1" height="1"/>
<rect x="1112" y="221" width="1" height="1"/>
<rect x="1115" y="205" width="1" height="24"/>
<rect x="1114" y="221" width="1" height="1"/>
<rect x="1116" y="218" width="1" height="1"/>
<rect x="1119" y="208" width="1" height="21"/>
<rect x="1118" y="218" width="1" height="1"/>
<rect x="1120" y="215" width="1" height="1"/>
<rect x="1123" y="203" width="1" height="17"/>
<rect x="1122" y="215" width="1" height="1"/>
<rect x="1124" y="214" width="1" height="1"/>
<rect x="1127" y="203" width="1" height="27"/>
<rect x="1126" y="214" width="1" height="1"/>
<rect x="1128" y="229" width="1" height="1"/>
<rect x="1131" y="228" width="1" height="36"/>
<rect x="1130" y="229" width="1" height="1"/>
<rect x="1132" y="253" width="1" height="1"/>
<rect x="1135" y="251" width="1" height="15"/>
<rect x="1134" y="253" width="1" height="1"/>
<rect x="1136" y="258" width="1" height="1"/>
<rect x="1139" y="243" width="1" height="22"/>
<rect x="1138" y="258" width="1" height="1"/>
<rect x="1140" y="249" width="1" height="1"/>
<rect x="1143" y="235" width="1" height="18"/>
<rect x="1142" y="249" width="1" height="1"/>
<rect x="1144" y="236" width="1" height="1"/>
<rect x="1147" y="212" width="1" height="33"/>
<rect x="1146" y="236" width="1" height="1"/>
<rect x="1148" y="221" width="1" height="1"/>
<rect x="1151" y="207" width="1" height="12"/>
<rect x="1150" y="218" width="1" height="1"/>
<rect x="1152" y="218" width="1" height="1"/>
<rect x="1155" y="209" width="1" height="28"/>
<rect x="1154" y="218" width="1" height="1"/>
<rect x="1156" y="221" width="1" height="1"/>
<rect x="1159" y="205" width="1" height="27"/>
<rect x="1158" y="221" width="1" height="1"/>
<rect x="1160" y="214" width="1" height="1"/>
<rect x="1163" y="200" width="1" height="17"/>
<rect x="1162" y="214" width="1" height="1"/>
<rect x="1164" y="205" width="1" height="1"/>
<rect x="1167" y="184" width="1" height="32"/>
<rect x="1166" y="205" width="1" height="1"/>
<rect x="1168" y="192" width="1" height="1"/>
<rect x="1171" y="177" width="1" height="25"/>
<rect x="1170" y="192" width="1" height="1"/>
<rect x="1172" y="186" width="1" height="1"/>
<rect x="1175" y="178" width="1" height="18"/>
<rect x="1174" y="186" width="1" height="1"/>
<rect x="1176" y="184" width="1" height="1"/>
<rect x="1179" y="173" width="1" height="18"/>
<rect x="1178" y="184" width="1" height="1"/>
<rect x="1180" y="181" width="1" height="1"/>
<rect x="1183" y="178" width="1" height="12"/>
<rect x="1182" y="181" width="1" height="1"/>
<rect x="1184" y="184" width="1" height="1"/>
<rect x="1187" y="170" width="1" height="33"/>
<rect x="1186" y="184" width="1" height="1"/>
<rect x="1188" y="175" width="1" height="1"/>
<rect x="1191" y="165" width="1" height="12"/>
<rect x="1190" y="175" width="1" height="1"/>
<rect x="1192" y="171" width="1" height="1"/>
<rect x="1195" y="160" width="1" height="19"/>
<rect x="1194" y="171" width="1" height="1"/>
<rect x="1196" y="174" width="1" height="1"/>
<rect x="1199" y="164" width="1" height="23"/>
<rect x="1198" y="174" width="1" height="1"/>
<rect x="1200" y="171" width="1" height="1"/>
<rect x="1203" y="157" width="1" height="16"/>
<rect x="1202" y="171" width="1" height="1"/>
<rect x="1204" y="165" width="1" height="1"/>
<rect x="1207" y="157" width="1" height="21"/>
<rect x="1206" y="165" width="1" height="1"/>
<rect x="1208" y="175" width="1" height="1"/>
<rect x="1211" y="174" width="1" height="10"/>
<rect x="1210" y="175" width="1" height="1"/>
<rect x="1212" y="176" width="1" height="1"/>
<rect x="1215" y="166" width="1" height="13"/>
<rect x="1214" y="176" width="1" height="1"/>
<rect x="1216" y="169" width="1" height="1"/>
<rect x="1219" y="161" width="1" height="16"/>
<rect x="1218" y="169" width="1" height="1"/>
<rect x="1220" y="173" width="1" height="1"/>
<rect x="1223" y="172" width="1" height="2"/>
<rect x="1222" y="173" width="1" height="1"/>
<rect x="1224" y="173" width="1" height="1"/>
</g>
<polyline points="3.5,766.7 7.5,758.3 11.5,757.3 15.5,771.0 19.5,772.8 23.5,782.2 27.5,782.2 31.5,778.4 35.5,784.3 39.5,773.0 43.5,755.5 47.5,755.5 51.5,721.1 55.5,710.6 59.5,702.2 63.5,710.6 67.5,725.3 71.5,742.9 75.5,737.3 79.5,725.3 83.5,720.4 87.5,716.2 91.5,714.1 95.5,708.8 99.5,724.2 103.5,725.3 107.5,710.2 111.5,731.2 115.5,726.5 119.5,726.5 123.5,723.6 127.5,726.5 131.5,724.2 135.5,714.1 139.5,702.2 143.5,690.2 147.5,689.5 151.5,698.9 155.5,711.0 159.5,712.7 163.5,735.2 167.5,747.5 171.5,740.5 175.5,749.2 179.5,749.2 183.5,748.5 187.5,777.3 191.5,763.2 195.5,760.4 199.5,767.4 203.5,768.6 207.5,761.1 211.5,749.9 215.5,741.5 219.5,765.3 223.5,757.3 227.5,776.1 231.5,780.8 235.5,783.6 239.5,787.4 243.5,766.7 247.5,759.7 251.5,773.3 255.5,765.3 259.5,758.3 263.5,730.2 267.5,720.4 271.5,709.2 275.5,705.4 279.5,709.2 283.5,703.6 287.5,703.6 291.5,715.5 295.5,707.1 299.5,698.4 303.5,704.6 307.5,703.6 311.5,700.8 315.5,716.9 319.5,725.6 323.5,719.4 327.5,721.1 331.5,703.6 335.5,723.9 339.5,740.8 343.5,752.3 347.5,755.1 351.5,747.5 355.5,754.5 359.5,746.4 363.5,740.1 367.5,732.4 371.5,726.5 375.5,725.1 379.5,722.2 383.5,726.0 387.5,744.9 391.5,747.3 395.5,721.5 399.5,723.4 403.5,728.5 407.5,713.1 411.5,697.9 415.5,686.4 419.5,689.2 423.5,684.6 427.5,708.4 431.5,699.6 435.5,690.2 439.5,700.4 443.5,700.4 447.5,701.4 451.5,690.2 455.5,709.4 459.5,696.2 463.5,682.7 467.5,674.3 471.5,693.4 475.5,691.6 479.5,701.4 483.5,710.2 487.5,701.0 491.5,698.2 495.5,686.9 499.5,684.1 503.5,678.5 507.5,703.2 511.5,704.0 515.5,733.3 519.5,716.4 523.5,726.0 527.5,717.3 531.5,709.4 535.5,717.3 539.5,725.3 543.5,713.1 547.5,711.2 551.5,714.0 555.5,695.1 559.5,691.2 563.5,692.3 567.5,694.8 571.5,697.9 575.5,701.4 579.5,722.5 583.5,754.3 587.5,734.1 591.5,729.1 595.5,724.3 599.5,725.3 603.5,720.4 607.5,734.1 611.5,747.7 615.5,730.5 619.5,732.3 623.5,722.5 627.5,728.5 631.5,741.1 635.5,740.3 639.5,752.4 643.5,754.5 647.5,770.9 651.5,776.1 655.5,768.6 659.5,768.6 663.5,772.4 667.5,776.6 671.5,790.2 675.5,787.8 679.5,775.2 683.5,772.4 687.5,751.3 691.5,736.3 695.5,734.5 699.5,747.8 703.5,749.5 707.5,755.1 711.5,760.4 715.5,753.4 719.5,743.3 723.5,738.7 727.5,760.7 731.5,782.9 735.5,788.2 739.5,789.2 743.5,773.3 747.5,763.5 751.5,760.4 755.5,765.3 759.5,739.6 763.5,737.3 767.5,741.3 771.5,728.5 775.5,729.1 779.5,717.3 783.5,712.6 787.5,734.1 791.5,720.6 795.5,706.6 799.5,712.2 803.5,702.4 807.5,709.1 811.5,710.2 815.5,708.0 819.5,694.4 823.5,694.4 827.5,703.8 831.5,743.1 835.5,733.0 839.5,724.3 843.5,715.4 847.5,722.0 851.5,719.6 855.5,729.1 859.5,720.4 863.5,711.2 867.5,721.5 871.5,727.4 875.5,715.4 879.5,723.2 883.5,745.9 887.5,738.3 891.5,749.1 895.5,736.2 899.5,725.3 903.5,728.1 907.5,735.5 911.5,719.6 915.5,717.5 919.5,701.4 923.5,699.6 927.5,696.8 931.5,688.4 935.5,697.2 939.5,692.6 943.5,697.6 947.5,690.2 951.5,710.2 955.5,709.8 959.5,706.3 963.5,727.6 967.5,730.5 971.5,723.4 975.5,712.6 979.5,739.3 983.5,726.2 987.5,730.2 991.5,722.0 995.5,722.5 999.5,736.5 1003.5,736.5 1007.5,725.3 1011.5,745.9 1015.5,743.5 1019.5,767.4 1023.5,765.3 1027.5,777.0 1031.5,772.4 1035.5,778.4 1039.5,769.5 1043.5,743.6 1047.5,739.4 1051.5,743.3 1055.5,744.3 1059.5,733.8 1063.5,732.4 1067.5,736.3 1071.5,737.3 1075.5,767.2 1079.5,785.0 1083.5,779.8 1087.5,787.4 1091.5,774.2 1095.5,772.4 1099.5,779.4 1103.5,762.5 1107.5,776.6 1111.5,770.0 1115.5,763.5 1119.5,763.5 1123.5,760.5 1127.5,768.7 1131.5,791.4 1135.5,782.0 1139.5,772.4 1143.5,764.1 1147.5,744.7 1151.5,743.7 1155.5,756.5 1159.5,738.7 1163.5,742.2 1167.5,728.8 1171.5,720.4 1175.5,723.2 1179.5,721.4 1183.5,723.2 1187.5,714.4 1191.5,713.4 1195.5,718.3 1199.5,713.4 1203.5,715.2 1207.5,723.2 1211.5,724.2 1215.5,718.3 1219.5,718.0 1223.5,719.4" fill="none" stroke="#1caba5" stroke-width="1.1" stroke-linejoin="round"/>
<text class="N" x="42.1" y="528.8" text-anchor="middle" textLength="27.4" lengthAdjust="spacing">(V)</text>
<text class="N" x="578.0" y="124.1" text-anchor="middle" textLength="31.0" lengthAdjust="spacing">(W)</text>
<text class="N" x="738.2" y="375.5" text-anchor="middle" textLength="27.8" lengthAdjust="spacing">(X)</text>
<text class="N" x="950.3" y="80.5" text-anchor="middle" textLength="27.6" lengthAdjust="spacing">(Y)</text>
<text class="N" x="1142.0" y="322.8" text-anchor="middle" textLength="27.8" lengthAdjust="spacing">(X)</text>
<text class="N" x="1209.3" y="53.6" text-anchor="middle" textLength="26.0" lengthAdjust="spacing">(Z)</text>
<text class="B" transform="translate(153.6,325.5) scale(1.08,1)" text-anchor="middle">A</text>
<text class="B" transform="translate(230.0,521.5) scale(1.08,1)" text-anchor="middle">B</text>
<text class="B" transform="translate(574.2,139.4) scale(1.05,1)" text-anchor="middle">C</text>
<text class="B" transform="translate(673.5,329.7) scale(1.08,1)" text-anchor="middle">W</text>
<text class="B" transform="translate(697.5,220.4) scale(1.18,1)" text-anchor="middle">X</text>
<text class="B" transform="translate(738.5,354.7) scale(1.25,1)" text-anchor="middle">Y</text>
<text class="B" transform="translate(821.6,169.5) scale(1.08,1)" text-anchor="middle">A</text>
<text class="B" transform="translate(894.3,264.7) scale(1.08,1)" text-anchor="middle">B</text>
<text class="B" transform="translate(949.8,96.8) scale(1.05,1)" text-anchor="middle">C</text>
<text class="B" transform="translate(1029.5,236.5) scale(1.08,1)" text-anchor="middle">W</text>
<text class="B" transform="translate(1073.7,133.6) scale(1.18,1)" text-anchor="middle">X</text>
<text class="B" transform="translate(1139.0,294.7) scale(1.25,1)" text-anchor="middle">Y</text>
<text class="B" transform="translate(1201.5,149.5) scale(1.08,1)" text-anchor="middle">A</text>
<text class="G" transform="translate(57.4,399.4) scale(1.15,1)" text-anchor="middle">a</text>
<text class="G" transform="translate(133.6,432.7) scale(1.1,1)" text-anchor="middle">b</text>
<text class="G" transform="translate(153.6,341.4) scale(1.2,1)" text-anchor="middle">c</text>
<text class="G" transform="translate(185.5,465.5) scale(1.15,1)" text-anchor="middle">a</text>
<text class="G" transform="translate(217.1,405.1) scale(1.1,1)" text-anchor="middle">b</text>
<text class="G" transform="translate(233.6,501.7) scale(1.2,1)" text-anchor="middle">c</text>
<text class="G" x="302.0" y="339.6" text-anchor="middle" textLength="17.2" lengthAdjust="spacing">(1)</text>
<text class="G" x="366.0" y="439.0" text-anchor="middle" textLength="17.2" lengthAdjust="spacing">(2)</text>
<text class="G" x="506.0" y="194.2" text-anchor="middle" textLength="17.2" lengthAdjust="spacing">(3)</text>
<text class="G" x="550.1" y="268.6" text-anchor="middle" textLength="17.2" lengthAdjust="spacing">(4)</text>
<text class="G" x="562.2" y="155.6" text-anchor="middle" textLength="17.2" lengthAdjust="spacing">(5)</text>
<text class="G" transform="translate(585.4,263.4) scale(1.15,1)" text-anchor="middle">a</text>
<text class="G" transform="translate(633.4,162.2) scale(1.1,1)" text-anchor="middle">b</text>
<text class="G" transform="translate(672.9,310.4) scale(1.2,1)" text-anchor="middle">c</text>
<text class="G" transform="translate(713.5,287.6) scale(1.15,1)" text-anchor="middle">a</text>
<text class="G" transform="translate(725.6,239.2) scale(1.1,1)" text-anchor="middle">b</text>
<text class="G" transform="translate(741.2,338.7) scale(1.2,1)" text-anchor="middle">c</text>
<text class="G" transform="translate(833.6,258.6) scale(1.15,1)" text-anchor="middle">a</text>
<text class="G" transform="translate(865.2,156.9) scale(1.1,1)" text-anchor="middle">b</text>
<text class="G" transform="translate(893.4,244.6) scale(1.2,1)" text-anchor="middle">c</text>
<text class="G" transform="translate(977.8,181.6) scale(1.15,1)" text-anchor="middle">a</text>
<text class="G" transform="translate(997.4,109.1) scale(1.1,1)" text-anchor="middle">b</text>
<text class="G" transform="translate(1029.2,219.1) scale(1.2,1)" text-anchor="middle">c</text>
<text class="G" transform="translate(1081.5,243.5) scale(1.15,1)" text-anchor="middle">a</text>
<text class="G" transform="translate(1125.2,203.6) scale(1.1,1)" text-anchor="middle">b</text>
<text class="Gs" transform="translate(1133.2,282.6) scale(1.2,1)" text-anchor="middle">c</text>
<text class="O" x="249.3" y="450.0" text-anchor="middle">(1)</text>
<text class="O" x="257.1" y="489.5" text-anchor="middle">(2)</text>
<text class="O" x="280.8" y="377.6" text-anchor="middle">(3)</text>
<text class="O" x="297.0" y="421.7" text-anchor="middle">(4)</text>
<text class="O" x="301.0" y="353.8" text-anchor="middle">(5)</text>
<text class="O" x="321.1" y="407.7" text-anchor="middle">a</text>
<text class="O" x="333.1" y="351.0" text-anchor="middle">b</text>
<text class="Os" x="361.6" y="428.9" text-anchor="middle">c</text>
<text class="O" x="381.1" y="369.2" text-anchor="middle">(1)</text>
<text class="O" x="397.0" y="410.7" text-anchor="middle">(2)</text>
<text class="O" x="461.3" y="233.0" text-anchor="middle">(3)</text>
<text class="O" x="489.1" y="299.2" text-anchor="middle">(4)</text>
<text class="O" x="505.1" y="210.2" text-anchor="middle">(5)</text>
<text class="O" x="513.0" y="282.9" text-anchor="middle">a</text>
<text class="O" x="532.8" y="212.3" text-anchor="middle">b</text>
<text class="Os" x="545.5" y="257.7" text-anchor="middle">c</text>
<text class="O" x="604.7" y="179.6" text-anchor="middle">a</text>
<text class="O" x="612.8" y="253.1" text-anchor="middle">b</text>
<text class="Os" x="629.3" y="178.1" text-anchor="middle">c</text>
<text class="O" x="777.1" y="231.6" text-anchor="middle">(1)</text>
<text class="O" x="792.8" y="275.5" text-anchor="middle">(2)</text>
<text class="O" x="801.0" y="196.5" text-anchor="middle">(3)</text>
<text class="O" x="816.9" y="233.3" text-anchor="middle">(4)</text>
<text class="O" x="821.0" y="182.5" text-anchor="middle">(5)</text>
<text class="O" x="844.9" y="182.7" text-anchor="middle">a</text>
<text class="O" x="856.7" y="231.9" text-anchor="middle">b</text>
<text class="Os" x="865.5" y="167.4" text-anchor="middle">c</text>
<text class="n" x="393.6" y="369.0" text-anchor="middle">i</text>
<text class="n" x="405.9" y="398.1" text-anchor="middle">ii</text>
<text class="n" x="417.7" y="307.2" text-anchor="middle">iii</text>
<text class="n" x="458.1" y="332.3" text-anchor="middle">iv</text>
<text class="n" x="465.9" y="240.8" text-anchor="middle">v</text>
</svg></body></html>
